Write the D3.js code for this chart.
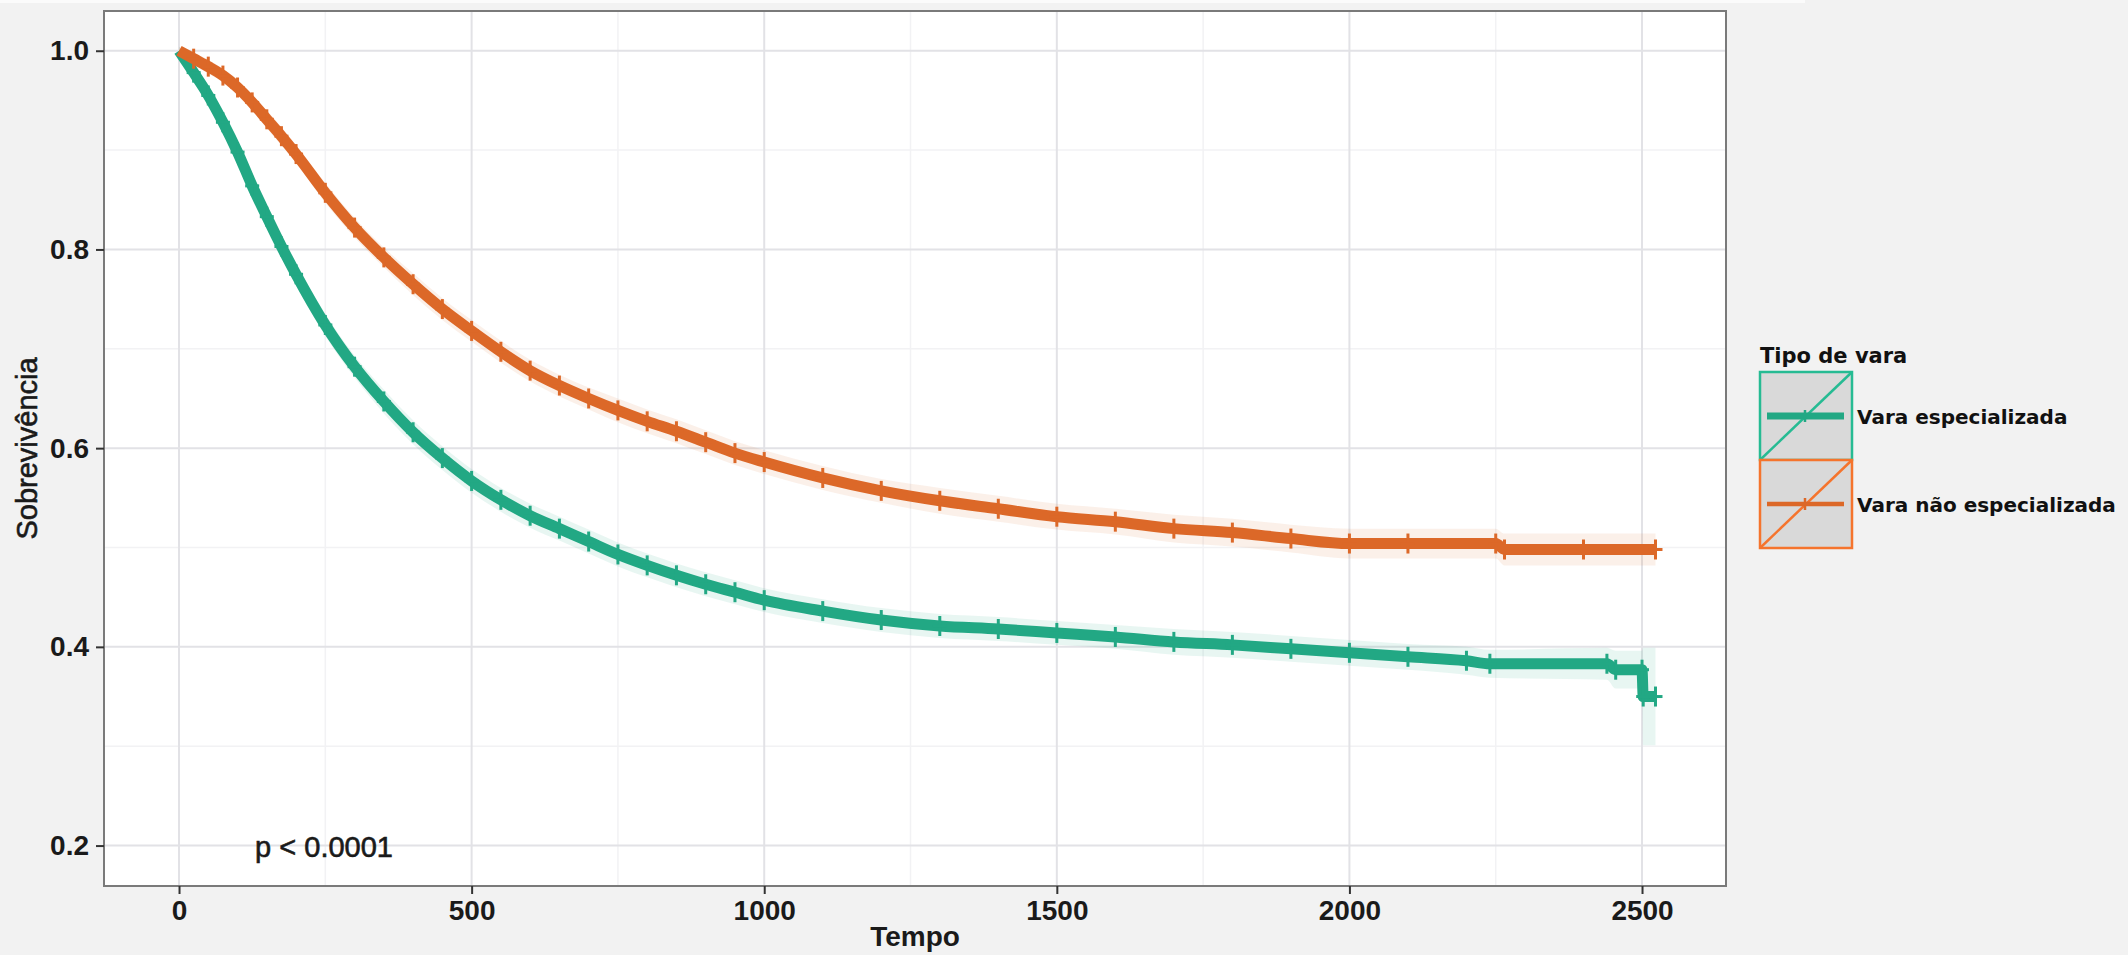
<!DOCTYPE html>
<html><head><meta charset="utf-8">
<script src="https://cdn.jsdelivr.net/npm/d3@7"></script>
<style>html,body{margin:0;padding:0;background:#f2f2f2;} svg{display:block;}</style>
</head><body><svg id="c" width="2128" height="955"></svg>
<script>
// ---------------- data ----------------
const seriesNames = ["Vara especializada", "Vara não especializada"];
const seriesColors = ["#22a884", "#dc6828"];
const legendTitle = "Tipo de vara";
const xTitle = "Tempo";
const yTitle = "Sobrevivência";
const pValueLabel = "p < 0.0001";

const timeEsp = [0,25,50,75,100,125,150,175,200,250,300,350,400,450,500,550,600,650,700,750,800,850,900,950,1000,1100,1200,1300,1400,1500,1600,1700,1800,1900,2000,2100,2200,2240,2440,2455,2500,2502,2523];
const survEsp = [1.000,0.978,0.955,0.928,0.898,0.864,0.833,0.803,0.775,0.724,0.682,0.647,0.616,0.590,0.567,0.548,0.532,0.519,0.506,0.493,0.482,0.472,0.463,0.455,0.447,0.436,0.427,0.421,0.418,0.414,0.410,0.405,0.402,0.398,0.394,0.390,0.386,0.383,0.383,0.377,0.377,0.350,0.350];
const ciEsp   = [0.000,0.003,0.004,0.005,0.005,0.006,0.006,0.006,0.007,0.007,0.007,0.008,0.008,0.008,0.008,0.008,0.008,0.008,0.008,0.008,0.008,0.008,0.008,0.008,0.008,0.008,0.008,0.008,0.008,0.008,0.008,0.009,0.009,0.009,0.009,0.009,0.010,0.010,0.012,0.015,0.015,0.045,0.045];

const timeNao = [0,25,50,75,100,125,150,175,200,250,300,350,400,450,500,550,600,650,700,750,800,850,900,950,1000,1100,1200,1300,1400,1500,1600,1700,1800,1900,2000,2100,2250,2265,2400,2523];
const survNao = [1.000,0.992,0.984,0.975,0.963,0.948,0.931,0.914,0.896,0.857,0.822,0.792,0.765,0.740,0.718,0.697,0.678,0.663,0.650,0.638,0.627,0.617,0.606,0.595,0.586,0.570,0.557,0.547,0.539,0.531,0.526,0.519,0.515,0.509,0.504,0.504,0.504,0.498,0.498,0.498];
const ciNao   = [0.000,0.002,0.003,0.003,0.004,0.004,0.005,0.005,0.005,0.006,0.006,0.006,0.007,0.007,0.007,0.007,0.007,0.007,0.007,0.008,0.008,0.008,0.008,0.008,0.008,0.008,0.008,0.009,0.009,0.009,0.009,0.010,0.010,0.010,0.011,0.011,0.011,0.012,0.012,0.012];

const xTicks = [0,500,1000,1500,2000,2500];
const xMinor = [250,750,1250,1750,2250];
const yTicks = [0.2,0.4,0.6,0.8,1.0];
const yMinor = [0.3,0.5,0.7,0.9];

// ---------------- layout ----------------
const P = {left:104, right:1726, top:11, bottom:886};
const svg = d3.select("#c");
const x = d3.scaleLinear().domain([-128.2, 2643.5]).range([P.left, P.right]);
const y = d3.scaleLinear().domain([0.1593, 1.04]).range([P.bottom, P.top]);

// top strip
svg.append("rect").attr("x",0).attr("y",0).attr("width",1805).attr("height",3).attr("fill","#fbfbfb");

// panel
svg.append("rect").attr("x",P.left).attr("y",P.top).attr("width",P.right-P.left).attr("height",P.bottom-P.top).attr("fill","#ffffff");

const grid = svg.append("g");
grid.selectAll(".ym").data(yMinor).join("line")
  .attr("x1",P.left).attr("x2",P.right).attr("y1",d=>y(d)).attr("y2",d=>y(d))
  .attr("stroke","#f2f2f4").attr("stroke-width",1.5);
grid.selectAll(".xm").data(xMinor).join("line")
  .attr("y1",P.top).attr("y2",P.bottom).attr("x1",d=>x(d)).attr("x2",d=>x(d))
  .attr("stroke","#f2f2f4").attr("stroke-width",1.5);
grid.selectAll(".yM").data(yTicks).join("line")
  .attr("x1",P.left).attr("x2",P.right).attr("y1",d=>y(d)).attr("y2",d=>y(d))
  .attr("stroke","#e2e2e6").attr("stroke-width",2);
grid.selectAll(".xM").data(xTicks).join("line")
  .attr("y1",P.top).attr("y2",P.bottom).attr("x1",d=>x(d)).attr("x2",d=>x(d))
  .attr("stroke","#e2e2e6").attr("stroke-width",2);

// series
const series = [
  {name:seriesNames[0], color:seriesColors[0], t:timeEsp, s:survEsp, ci:ciEsp},
  {name:seriesNames[1], color:seriesColors[1], t:timeNao, s:survNao, ci:ciNao}
];
const plot = svg.append("g");
series.forEach(sr=>{
  const pts = sr.t.map((t,i)=>({t, s:sr.s[i], c:sr.ci[i]}));
  plot.append("path").datum(pts)
    .attr("d", d3.area().curve(d3.curveMonotoneX).x(d=>x(d.t)).y0(d=>y(d.s-d.c-0.004)).y1(d=>y(d.s+d.c+0.004)))
    .attr("fill", sr.color).attr("fill-opacity",0.1);
});
series.forEach(sr=>{
  const pts = sr.t.map((t,i)=>({t, s:sr.s[i]}));
  plot.append("path").datum(pts)
    .attr("d", d3.line().curve(d3.curveMonotoneX).x(d=>x(d.t)).y(d=>y(d.s)))
    .attr("fill","none").attr("stroke",sr.color).attr("stroke-width",11).attr("stroke-linejoin","round");
  const marks = plot.append("g").attr("stroke",sr.color).attr("stroke-width",3);
  pts.slice(1).forEach(d=>{
    marks.append("line").attr("x1",x(d.t)).attr("x2",x(d.t)).attr("y1",y(d.s)-10).attr("y2",y(d.s)+10);
    marks.append("line").attr("x1",x(d.t)-7).attr("x2",x(d.t)+7).attr("y1",y(d.s)).attr("y2",y(d.s));
  });
});

// panel border
svg.append("rect").attr("x",P.left).attr("y",P.top).attr("width",P.right-P.left).attr("height",P.bottom-P.top)
  .attr("fill","none").attr("stroke","#7a7a7a").attr("stroke-width",2);

// axes
const font = "'Liberation Sans', Arial, sans-serif";
const xAxis = svg.append("g").attr("transform",`translate(0,${P.bottom})`)
  .call(d3.axisBottom(x).tickValues(xTicks).tickSize(8).tickPadding(6).tickFormat(d3.format("d")));
const yAxis = svg.append("g").attr("transform",`translate(${P.left},0)`)
  .call(d3.axisLeft(y).tickValues(yTicks).tickSize(8).tickPadding(7).tickFormat(d3.format(".1f")));
[xAxis,yAxis].forEach(a=>{
  a.select(".domain").remove();
  a.selectAll(".tick line").attr("stroke","#333").attr("stroke-width",2);
  a.selectAll(".tick text").attr("font-family",font).attr("font-size",28).attr("font-weight","bold").attr("fill","#1a1a1a");
});

svg.append("text").attr("x",(P.left+P.right)/2).attr("y",946).attr("text-anchor","middle")
  .attr("font-family",font).attr("font-size",28).attr("font-weight","bold").attr("fill","#1a1a1a").text(xTitle);
svg.append("text").attr("transform",`translate(37,${(P.top+P.bottom)/2}) rotate(-90)`).attr("text-anchor","middle")
  .attr("font-family",font).attr("font-size",29).attr("fill","#1a1a1a").attr("stroke","#1a1a1a").attr("stroke-width",0.6).text(yTitle);

svg.append("text").attr("x",x(130)).attr("y",857)
  .attr("font-family",font).attr("font-size",29).attr("fill","#1a1a1a").attr("stroke","#1a1a1a").attr("stroke-width",0.6).text(pValueLabel);

// legend
const lf = "'DejaVu Sans', Verdana, sans-serif";
const lg = svg.append("g");
lg.append("text").attr("x",1760).attr("y",363).attr("font-family",lf).attr("font-weight","bold")
  .attr("font-size",21).attr("fill","#111").text(legendTitle);
const keyW = 92, keyH = 88, keyX = 1760, keyY0 = 372;
series.forEach((sr,i)=>{
  const ky = keyY0 + i*keyH;
  lg.append("rect").attr("x",keyX).attr("y",ky).attr("width",keyW).attr("height",keyH)
    .attr("fill","#d9d9d9").attr("stroke",d3.color(sr.color).brighter(0.3)).attr("stroke-width",2.5);
  lg.append("line").attr("x1",keyX).attr("y1",ky+keyH).attr("x2",keyX+keyW).attr("y2",ky)
    .attr("stroke",d3.color(sr.color).brighter(0.3)).attr("stroke-width",2.5);
  const cy = ky + keyH/2;
  lg.append("line").attr("x1",keyX+7).attr("x2",keyX+keyW-8).attr("y1",cy).attr("y2",cy)
    .attr("stroke",sr.color).attr("stroke-width", i===0 ? 7 : 4.5);
  lg.append("line").attr("x1",keyX+45).attr("x2",keyX+45).attr("y1",cy-6).attr("y2",cy+6)
    .attr("stroke",sr.color).attr("stroke-width",2.5);
  lg.append("text").attr("x",keyX+97).attr("y",cy+8).attr("font-family",lf).attr("font-weight","bold")
    .attr("font-size",20).attr("fill","#111").text(sr.name);
});
</script></body></html>
